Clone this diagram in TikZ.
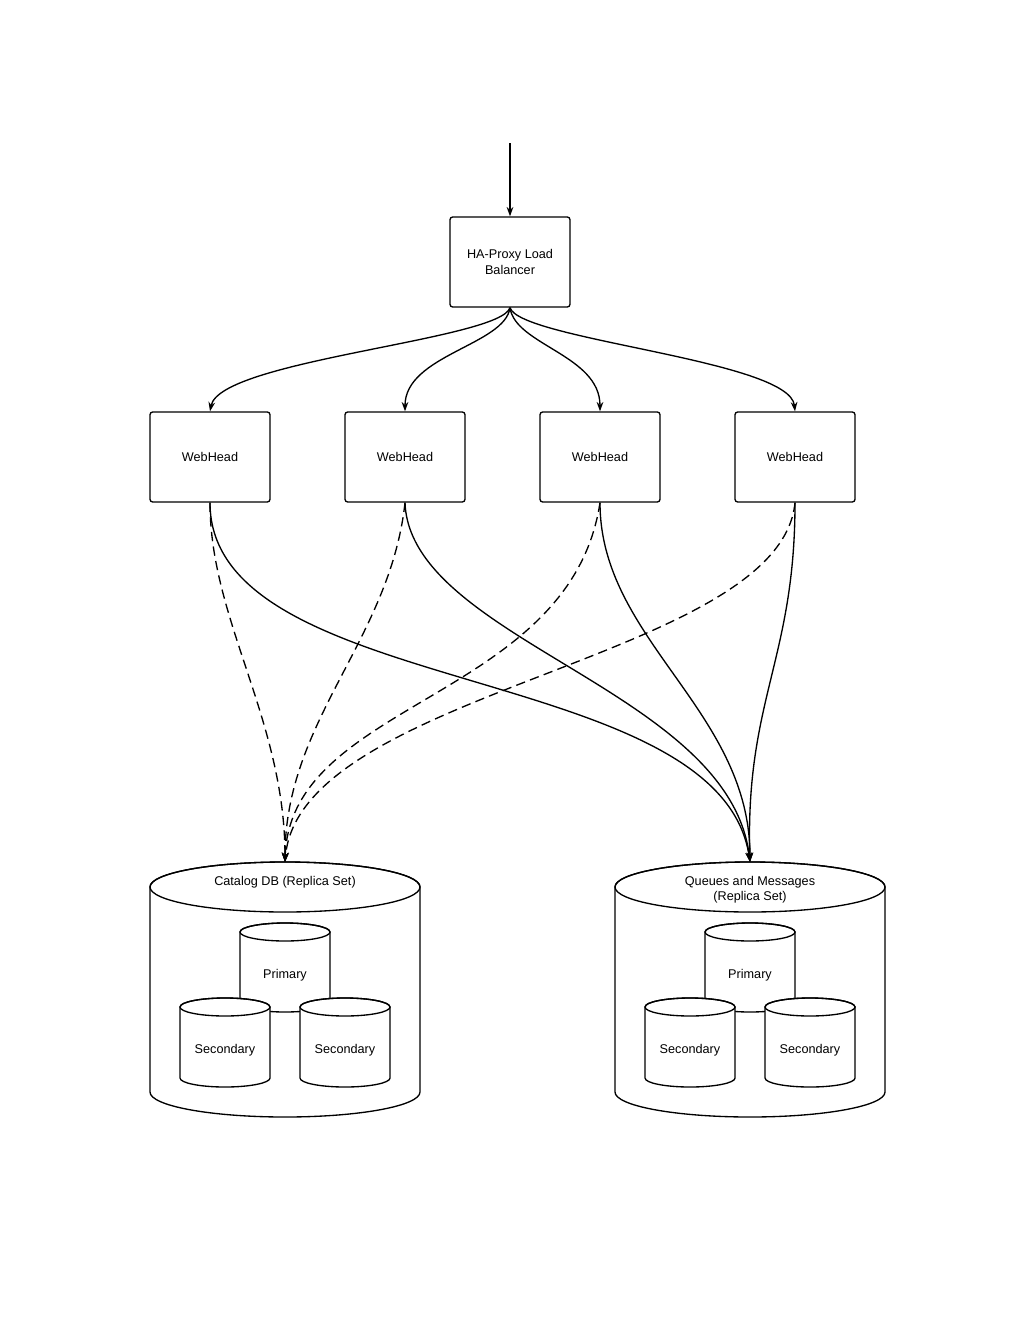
\documentclass[tikz,border=0pt]{standalone}
\usepackage{fontspec}
\setmainfont{Liberation Sans}
\usetikzlibrary{arrows.meta}
\begin{document}
\begin{tikzpicture}[x=0.75pt,y=-0.75pt,
  box/.style={draw,line width=1pt,rounded corners=2pt,minimum width=90pt,minimum height=67.5pt,align=center,font=\fontsize{9.5}{11.5}\selectfont},
  lbl/.style={align=center,font=\fontsize{9.5}{11.5}\selectfont},
  con/.style={line width=1pt,-{Stealth[length=7pt,width=5pt]}},
  dcon/.style={con,dash pattern=on 7pt off 4pt}]
\useasboundingbox (0,0) rectangle (1020,1320);
\newcommand\cyl[5]{% x1 x2 ytop ybottom ry
  \pgfmathsetmacro\cxa{#1}\pgfmathsetmacro\cxb{#2}%
  \pgfmathsetmacro\crx{(\cxb-\cxa)/2*0.75}\pgfmathsetmacro\ccx{(\cxb+\cxa)/2}%
  \filldraw[fill=white,line width=1pt] (\cxa,#3) -- (\cxa,#4) arc[start angle=180,end angle=360,x radius=\crx pt,y radius=#5*0.75pt] -- (\cxb,#3) arc[start angle=0,end angle=180,x radius=\crx pt,y radius=#5*0.75pt];
  \draw[line width=1pt] (\ccx,#3) ellipse[x radius=\crx pt,y radius=#5*0.75pt];}
\coordinate (in) at (510,143);
\node[box] (lb) at (510,262) {HA-Proxy Load\\Balancer};
\draw[con] (in) -- (lb.north);
\foreach \i/\x in {1/210,2/405,3/600,4/795}{\node[box] (w\i) at (\x,457) {WebHead};}
\draw[con] (lb.south) .. controls (500,340) and (220,360) .. (w1.north);
\draw[con] (lb.south) .. controls (505,345) and (405,355) .. (w2.north);
\draw[con] (lb.south) .. controls (515,345) and (600,355) .. (w3.north);
\draw[con] (lb.south) .. controls (520,340) and (790,360) .. (w4.north);
% databases
\cyl{150}{420}{887}{1092}{25}
\cyl{615}{885}{887}{1092}{25}
\node[lbl] (cat) at (285,882) {Catalog DB (Replica Set)};
\node[lbl] (que) at (750,890) {Queues and Messages\\(Replica Set)};
\coordinate (ct) at (285,862);
\coordinate (qt) at (750,862);
\foreach \o in {0,465}{
  \cyl{240+\o}{330+\o}{932}{1003}{9}
  \cyl{180+\o}{270+\o}{1007}{1078}{9}
  \cyl{300+\o}{390+\o}{1007}{1078}{9}}
\node[lbl] at (285,975) {Primary};
\node[lbl] at (225,1050) {Secondary};
\node[lbl] at (345,1050) {Secondary};
\node[lbl] at (750,975) {Primary};
\node[lbl] at (690,1050) {Secondary};
\node[lbl] at (810,1050) {Secondary};
% connectors
\draw[dcon] (w1.south) .. controls (210,620) and (285,720) .. (ct);
\draw[dcon] (w2.south) .. controls (390,640) and (285,720) .. (ct);
\draw[dcon] (w3.south) .. controls (570,700) and (290,700) .. (ct);
\draw[dcon] (w4.south) .. controls (780,660) and (300,690) .. (ct);
\draw[con] (w1.south) .. controls (210,700) and (720,660) .. (qt);
\draw[con] (w2.south) .. controls (410,640) and (730,690) .. (qt);
\draw[con] (w3.south) .. controls (600,640) and (750,710) .. (qt);
\draw[con] (w4.south) .. controls (795,660) and (745,700) .. (qt);
\end{tikzpicture}
\end{document}
